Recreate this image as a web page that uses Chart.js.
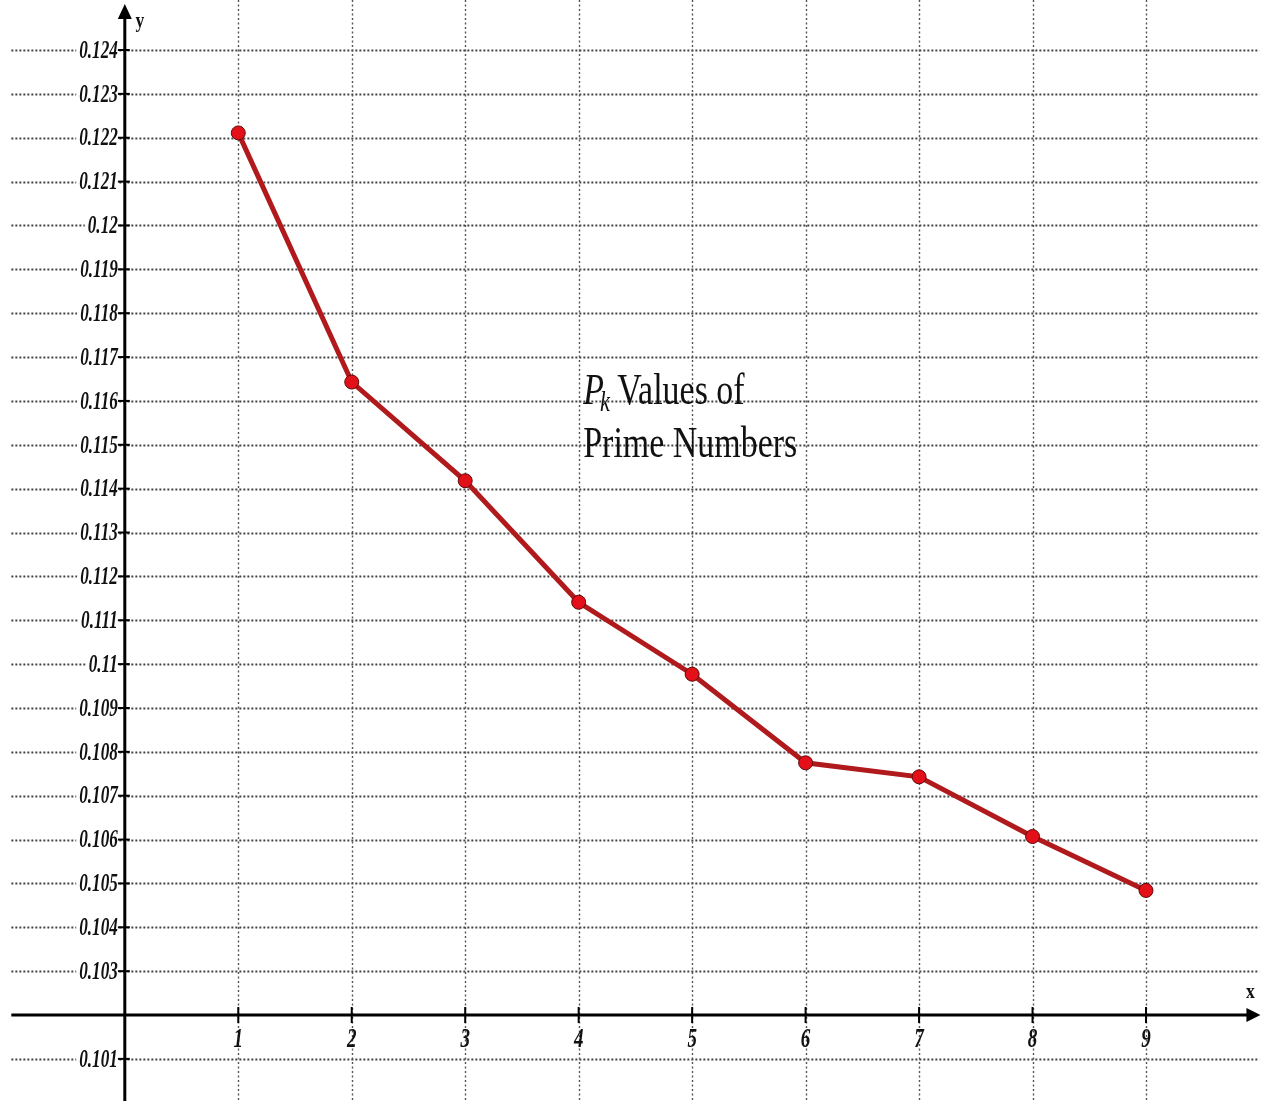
<!DOCTYPE html>
<html>
<head>
<meta charset="utf-8">
<title>Pk Values of Prime Numbers</title>
<script src="https://cdn.jsdelivr.net/npm/chart.js@4/dist/chart.umd.min.js"></script>
<style>
  html, body { margin: 0; padding: 0; background: #fff; }
  #wrap { width: 1264px; height: 1101px; position: relative; }
</style>
</head>
<body>
<div id="wrap"><canvas id="pk"></canvas></div>
<script>
// k = 1..9 and the P_k value of each prime
const kValues  = [1, 2, 3, 4, 5, 6, 7, 8, 9];
const pkValues = [0.12211, 0.11643, 0.11418, 0.11141, 0.10977, 0.10775, 0.10743, 0.10607, 0.10484];

// grid / tick values (0.102 sits under the x axis, so it has no label)
const yTickValues = [0.101, 0.103, 0.104, 0.105, 0.106, 0.107, 0.108, 0.109, 0.11, 0.111, 0.112,
                     0.113, 0.114, 0.115, 0.116, 0.117, 0.118, 0.119, 0.12, 0.121, 0.122, 0.123, 0.124];
const yTickLabels = ['0.101', '0.103', '0.104', '0.105', '0.106', '0.107', '0.108', '0.109', '0.11', '0.111', '0.112',
                     '0.113', '0.114', '0.115', '0.116', '0.117', '0.118', '0.119', '0.12', '0.121', '0.122', '0.123', '0.124'];
const xTickValues = [1, 2, 3, 4, 5, 6, 7, 8, 9];
const xTickLabels = ['1', '2', '3', '4', '5', '6', '7', '8', '9'];

// visible window of the plane
const X_MIN = -1.1, X_MAX = 10.04;
const Y_MIN = 0.10004, Y_MAX = 0.12514;
const X_AXIS_AT = 0.102, Y_AXIS_AT = 0;

function squeezedText(ctx, text, x, y, sx, align) {
  ctx.save();
  ctx.translate(x, y);
  ctx.scale(sx, 1);
  ctx.textAlign = align;
  ctx.fillText(text, 0, 0);
  ctx.restore();
}

const axesPlugin = {
  id: 'cartesianAxes',
  beforeDatasetsDraw(chart) {
    const { ctx, scales: { x, y } } = chart;
    const ox = x.getPixelForValue(Y_AXIS_AT);
    const oy = y.getPixelForValue(X_AXIS_AT);
    const left = x.getPixelForValue(-1);
    const right = x.getPixelForValue(10);

    ctx.save();
    // horizontal grid
    ctx.lineWidth = 2;
    ctx.strokeStyle = '#444';
    ctx.setLineDash([2, 2]);
    yTickValues.forEach(v => {
      const py = Math.round(y.getPixelForValue(v)) + 0.5;
      ctx.beginPath();
      ctx.moveTo(left, py);
      ctx.lineTo(right, py);
      ctx.stroke();
    });
    // vertical grid
    ctx.lineWidth = 1.4;
    ctx.strokeStyle = '#555';
    ctx.setLineDash([2, 2.5]);
    xTickValues.forEach(v => {
      const px = Math.round(x.getPixelForValue(v)) + 0.5;
      ctx.beginPath();
      ctx.moveTo(px, 0);
      ctx.lineTo(px, chart.height);
      ctx.stroke();
    });
    ctx.setLineDash([]);

    // axes
    ctx.strokeStyle = '#000';
    ctx.fillStyle = '#000';
    ctx.lineWidth = 3;
    ctx.beginPath();
    ctx.moveTo(ox, 16);
    ctx.lineTo(ox, chart.height);
    ctx.moveTo(left, oy);
    ctx.lineTo(right - 12, oy);
    ctx.stroke();
    // arrow heads
    ctx.beginPath();
    ctx.moveTo(ox, 4);
    ctx.lineTo(ox - 7, 19);
    ctx.lineTo(ox + 7, 19);
    ctx.closePath();
    ctx.fill();
    ctx.beginPath();
    ctx.moveTo(right + 1, oy);
    ctx.lineTo(right - 13, oy - 7);
    ctx.lineTo(right - 13, oy + 7);
    ctx.closePath();
    ctx.fill();

    // tick marks
    ctx.lineWidth = 2;
    yTickValues.forEach(v => {
      const py = y.getPixelForValue(v);
      ctx.beginPath();
      ctx.moveTo(ox - 7, py);
      ctx.lineTo(ox + 5, py);
      ctx.stroke();
    });
    xTickValues.forEach(v => {
      const px = x.getPixelForValue(v);
      ctx.beginPath();
      ctx.moveTo(px, oy - 8);
      ctx.lineTo(px, oy + 8);
      ctx.stroke();
    });

    // y tick labels
    ctx.font = 'italic bold 26px "Liberation Serif"';
    ctx.textBaseline = 'middle';
    yTickLabels.forEach((t, i) => {
      const py = y.getPixelForValue(yTickValues[i]);
      const w = ctx.measureText(t).width * 0.66;
      ctx.fillStyle = '#fff';
      ctx.fillRect(ox - 8 - w - 2, py - 9, w + 3, 18);
      ctx.fillStyle = '#111';
      squeezedText(ctx, t, ox - 7, py + 1, 0.66, 'right');
    });
    // x tick labels
    ctx.font = 'italic bold 28px "Liberation Serif"';
    xTickLabels.forEach((t, i) => {
      const px = x.getPixelForValue(xTickValues[i]);
      squeezedText(ctx, t, px, oy + 25, 0.68, 'center');
    });

    // axis names
    ctx.font = 'bold 22px "Liberation Serif"';
    ctx.textBaseline = 'alphabetic';
    squeezedText(ctx, 'y', ox + 15, 27, 0.8, 'center');
    squeezedText(ctx, 'x', right - 9, oy - 17, 0.8, 'center');

    // caption
    ctx.fillStyle = '#111';
    ctx.font = '44px "Liberation Serif"';
    const sx = 214 / ctx.measureText('Prime Numbers').width;
    const cx = x.getPixelForValue(4.04);
    squeezedText(ctx, 'Prime Numbers', cx, y.getPixelForValue(0.11472), sx, 'left');
    const by = y.getPixelForValue(0.11593);
    ctx.font = 'italic 44px "Liberation Serif"';
    squeezedText(ctx, 'P', cx, by, sx, 'left');
    const pw = ctx.measureText('P').width * sx;
    ctx.font = 'italic 29px "Liberation Serif"';
    squeezedText(ctx, 'k', cx + pw - 4, by + 7, sx, 'left');
    const kw = ctx.measureText('k').width * sx;
    ctx.font = '44px "Liberation Serif"';
    squeezedText(ctx, ' Values of', cx + pw + kw - 5, by, sx, 'left');
    ctx.restore();
  }
};

new Chart(document.getElementById('pk'), {
  type: 'line',
  data: {
    labels: kValues,
    datasets: [{
      data: kValues.map((k, i) => ({ x: k, y: pkValues[i] })),
      borderColor: '#b01a1c',
      borderWidth: 5,
      pointRadius: 7,
      pointBackgroundColor: '#e3101a',
      pointBorderColor: '#5e0a0a',
      pointBorderWidth: 1,
      tension: 0,
      clip: false
    }]
  },
  options: {
    responsive: true,
    maintainAspectRatio: false,
    animation: false,
    layout: { padding: 0, autoPadding: false },
    plugins: { legend: { display: false }, tooltip: { enabled: false } },
    scales: {
      x: { type: 'linear', min: X_MIN, max: X_MAX, display: false },
      y: { type: 'linear', min: Y_MIN, max: Y_MAX, display: false }
    }
  },
  plugins: [axesPlugin]
});
</script>
</body>
</html>
